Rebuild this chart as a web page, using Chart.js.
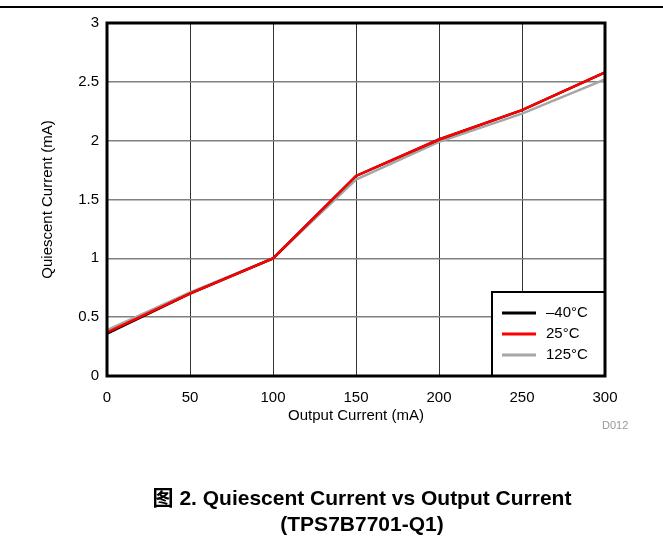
<!DOCTYPE html>
<html>
<head>
<meta charset="utf-8">
<script src="https://cdn.jsdelivr.net/npm/chart.js@4"></script>
<style>
  body { margin: 0; background: #fff; overflow: hidden; font-family: "Liberation Sans", Arial, "Noto Sans CJK SC", sans-serif; }
  #wrap { position: relative; width: 663px; height: 537px; }
  #topline { position: absolute; left: 0; top: 6px; width: 663px; height: 2px; background: #000; }
  canvas { position: absolute; left: 0; top: 0; }
  #caption { position: absolute; left: 62px; width: 600px; top: 485px; text-align: center; font-weight: bold; font-size: 21px; line-height: 26px; color: #000; }
  #code { position: absolute; left: 602px; top: 419px; font-size: 11px; color: #999; }
</style>
</head>
<body>
<div id="wrap">
  <div id="topline"></div>
  <canvas id="chart" width="663" height="537"></canvas>
  <div id="code">D012</div>
  <div id="caption">图 2. Quiescent Current vs Output Current<br>(TPS7B7701-Q1)</div>
</div>
<script>
const outputCurrent = [0, 50, 100, 150, 200, 250, 300];
const iqMinus40 = [0.36, 0.70, 1.00, 1.70, 2.01, 2.26, 2.58];
const iq25 = [0.37, 0.70, 1.00, 1.70, 2.01, 2.26, 2.58];
const iq125 = [0.39, 0.71, 1.00, 1.67, 1.99, 2.23, 2.52];
const seriesLabels = ["\u201340\u00B0C", "25\u00B0C", "125\u00B0C"];

const pts = (ys) => outputCurrent.map((x, i) => ({ x: x, y: ys[i] }));

// legend box + heavy frame drawn on top of the plot
const frameAndLegend = {
  id: "frameAndLegend",
  afterDraw(chart) {
    const ctx = chart.ctx;
    const a = chart.chartArea;
    ctx.save();
    const lw = 113, lh = 84;
    const lx = a.right - lw, ly = a.bottom - lh;
    ctx.fillStyle = "#fff";
    ctx.fillRect(lx, ly, lw, lh);
    ctx.strokeStyle = "#000";
    ctx.lineWidth = 2;
    ctx.strokeRect(lx, ly, lw, lh);
    ctx.font = "15px 'Liberation Sans', Arial";
    ctx.textBaseline = "middle";
    [0, 1, 2].forEach((k, i) => {
      const ds = chart.data.datasets.find(d => d.key === k);
      const y = ly + 21 + i * 21;
      ctx.strokeStyle = ds.borderColor;
      ctx.lineWidth = 3;
      ctx.beginPath();
      ctx.moveTo(lx + 10, y);
      ctx.lineTo(lx + 44, y);
      ctx.stroke();
      ctx.fillStyle = "#000";
      ctx.fillText(ds.label, lx + 54, y);
    });
    ctx.strokeStyle = "#000";
    ctx.lineWidth = 3;
    ctx.strokeRect(a.left, a.top, a.right - a.left, a.bottom - a.top);
    ctx.restore();
  }
};

const tickFont = { family: "'Liberation Sans', Arial", size: 15 };

new Chart(document.getElementById("chart"), {
  type: "line",
  data: {
    datasets: [
      { key: 2, label: seriesLabels[2], data: pts(iq125), borderColor: "#a6a6a6", order: 3 },
      { key: 0, label: seriesLabels[0], data: pts(iqMinus40), borderColor: "#000000", order: 2 },
      { key: 1, label: seriesLabels[1], data: pts(iq25), borderColor: "#ff0000", order: 1 }
    ]
  },
  options: {
    responsive: false,
    animation: false,
    layout: { padding: { left: 35, right: 58, top: 23, bottom: 108 } },
    elements: {
      line: { borderWidth: 2.5, tension: 0 },
      point: { radius: 0 }
    },
    plugins: { legend: { display: false }, tooltip: { enabled: false } },
    scales: {
      x: {
        type: "linear",
        min: 0, max: 300,
        ticks: { stepSize: 50, color: "#000", font: tickFont, padding: 13 },
        grid: { color: "#333", lineWidth: 1, drawTicks: false },
        border: { display: false },
        title: { display: true, text: "Output Current (mA)", color: "#000", font: tickFont, padding: { top: 0 } },
        afterFit: (s) => { s.height = 53; }
      },
      y: {
        min: 0, max: 3,
        ticks: { stepSize: 0.5, color: "#000", font: tickFont, padding: 8, callback: (v) => String(v) },
        grid: { color: "#808080", lineWidth: 1.5, drawTicks: false },
        border: { display: false },
        title: { display: true, text: "Quiescent Current (mA)", color: "#000", font: tickFont },
        afterFit: (s) => { s.width = 72; }
      }
    }
  },
  plugins: [frameAndLegend]
});
</script>
</body>
</html>
